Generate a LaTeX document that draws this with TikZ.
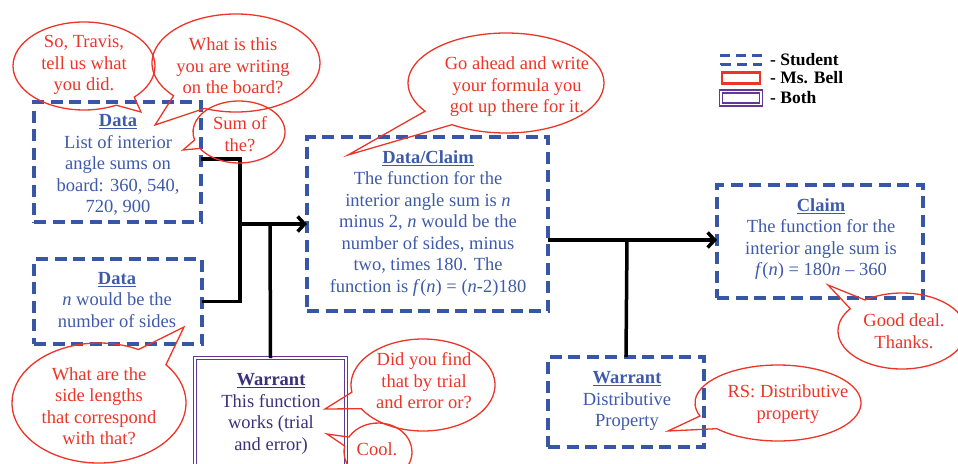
\documentclass[tikz,border=0pt]{standalone}
\usepackage{fontspec}
\setmainfont{Liberation Serif}
\usetikzlibrary{arrows.meta}
\definecolor{sblue}{RGB}{56,86,166}
\definecolor{tblue}{RGB}{62,90,170}
\definecolor{bred}{RGB}{236,52,40}
\definecolor{bpurp}{RGB}{100,55,150}
\definecolor{tpurp}{RGB}{60,48,120}
\tikzset{
 sbox/.style={draw=sblue, line width=3.5pt, dash pattern=on 12pt off 6.5pt, inner sep=0pt, outer sep=0pt},
 bothbox/.style={draw=bpurp, double=white, double distance=2pt, line width=1.2pt, inner sep=0pt, outer sep=0pt},
 btxt/.style={text=tblue, align=center, font=\fontsize{18.5}{21.5}\selectfont, inner sep=0pt},
 ptxt/.style={btxt, text=tpurp},
 rtxt/.style={btxt, text=bred},
 bubble/.style={draw=bred, line width=1.3pt, line join=miter},
 conn/.style={line width=3.5pt, black},
 arr/.style={conn, -{Straight Barb[length=7pt,width=15pt]}},
 leg/.style={font=\fontsize{17.5}{19}\selectfont\bfseries, anchor=west, inner sep=0pt},
}
\newcommand\spbubble[8]{\draw[bubble] (#1,#2) ++(#5:#3pt and #4pt) arc[start angle=#5, end angle=#6, x radius=#3pt, y radius=#4pt] -- (#7,#8) -- cycle;}
\newcommand\hd[1]{\underline{\textbf{#1}}}
\begin{document}
\begin{tikzpicture}[x=1pt,y=1pt]
\useasboundingbox (0,0) rectangle (958,-463);
% boxes
\node[sbox, minimum width=167pt, minimum height=120pt] (d1) at (117.5,-162) {};
\node[sbox, minimum width=168pt, minimum height=85pt] (d2) at (118,-301.5) {};
\node[sbox, minimum width=241pt, minimum height=174pt] (dc) at (427.5,-224) {};
\node[sbox, minimum width=206pt, minimum height=113pt] (cl) at (820,-241.5) {};
\node[bothbox, minimum width=151pt, minimum height=112pt] (w1) at (270.5,-414) {};
\node[sbox, minimum width=156pt, minimum height=90pt] (w2) at (626,-402) {};
% box texts
\node[btxt] (d1t) at (118,-165) {\hd{Data}\\List of interior\\angle sums on\\board: 360, 540,\\720, 900};
\node[btxt] (d2t) at (117,-300) {\hd{Data}\\\textit{n} would be the\\number of sides};
\node[btxt] (dct) at (428,-223.5) {\hd{Data/Claim}\\The function for the\\interior angle sum is \textit{n}\\minus 2, \textit{n} would be the\\number of sides, minus\\two, times 180. The\\function is \textit{f}(\textit{n}) = (\textit{n}-2)180};
\node[btxt] (clt) at (821,-239) {\hd{Claim}\\The function for the\\interior angle sum is\\\textit{f}(\textit{n}) = 180\textit{n} -- 360};
\node[ptxt] (w1t) at (271,-414) {\hd{Warrant}\\This function\\works (trial\\and error)};
\node[btxt] (w2t) at (627,-401) {\hd{Warrant}\\Distributive\\Property};
% connectors
\coordinate (j1a) at (240,-159);
\coordinate (j1b) at (240,-224);
\coordinate (j1w) at (270,-224);
\draw[conn] (d1.east |- j1a) -- (j1a) -- (j1a |- d2.east) -- (d2.east);
\draw[arr] (j1b) -- (dc.west);
\draw[conn] (j1w) -- (w1.north);
\coordinate (j2) at (627,-240);
\draw[arr] (dc.east |- j2) -- (cl.west |- j2);
\draw[conn] (j2) -- (w2.north);
% bubbles
\spbubble{84}{-66}{71}{44}{-45}{297}{141}{-112}
\spbubble{236}{-63}{84}{49}{-112}{222}{155}{-125}
\spbubble{239}{-132}{46}{31}{-148}{195}{183}{-150}
\spbubble{506}{-83}{98}{50}{-123.5}{214.3}{348}{-155}
\spbubble{99}{-403}{87}{60}{63}{399.7}{184}{-327}
\spbubble{423}{-385}{72}{46}{-149}{189}{325}{-409}
\spbubble{378}{-452}{34}{29}{168}{509}{327}{-434}
\spbubble{778}{-403}{83}{38}{-137.5}{200}{668}{-431}
\spbubble{902}{-331}{64}{38}{144}{485.3}{828}{-285}
% bubble texts
\node[rtxt] (b1) at (84,-65) {So, Travis,\\tell us what\\you did.};
\node[rtxt] (b2) at (233,-66) {What is this\\you are writing\\on the board?};
\node[rtxt] (b3) at (240,-134) {Sum of\\the?};
\node[rtxt] (b4) at (517,-87) {Go ahead and write\\your formula you\\got up there for it.};
\node[rtxt] (b5) at (99,-406) {What are the\\side lengths\\that correspond\\with that?};
\node[rtxt] (b6) at (424,-381) {Did you find\\that by trial\\and error or?};
\node[rtxt] (b7) at (377,-449) {Cool.};
\node[rtxt] (b8) at (788,-404) {RS: Distributive\\property};
\node[rtxt] (b9) at (904,-331) {Good deal.\\Thanks.};
% legend
\node[draw=sblue, line width=2.5pt, dash pattern=on 10pt off 6pt, minimum width=40pt, minimum height=9pt, inner sep=0pt] (ls) at (741,-60) {};
\node[draw=bred, line width=2.5pt, minimum width=38pt, minimum height=11pt, inner sep=0pt] (lm) at (741,-78) {};
\node[draw=bpurp, double=white, double distance=1.8pt, line width=1.2pt, minimum width=40pt, minimum height=13pt, inner sep=0pt] (lb) at (741,-98) {};
\node[leg] (lst) at (770,-60) {- Student};
\node[leg] (lmt) at (770,-78) {- Ms. Bell};
\node[leg] (lbt) at (770,-98) {- Both};
\end{tikzpicture}
\end{document}
